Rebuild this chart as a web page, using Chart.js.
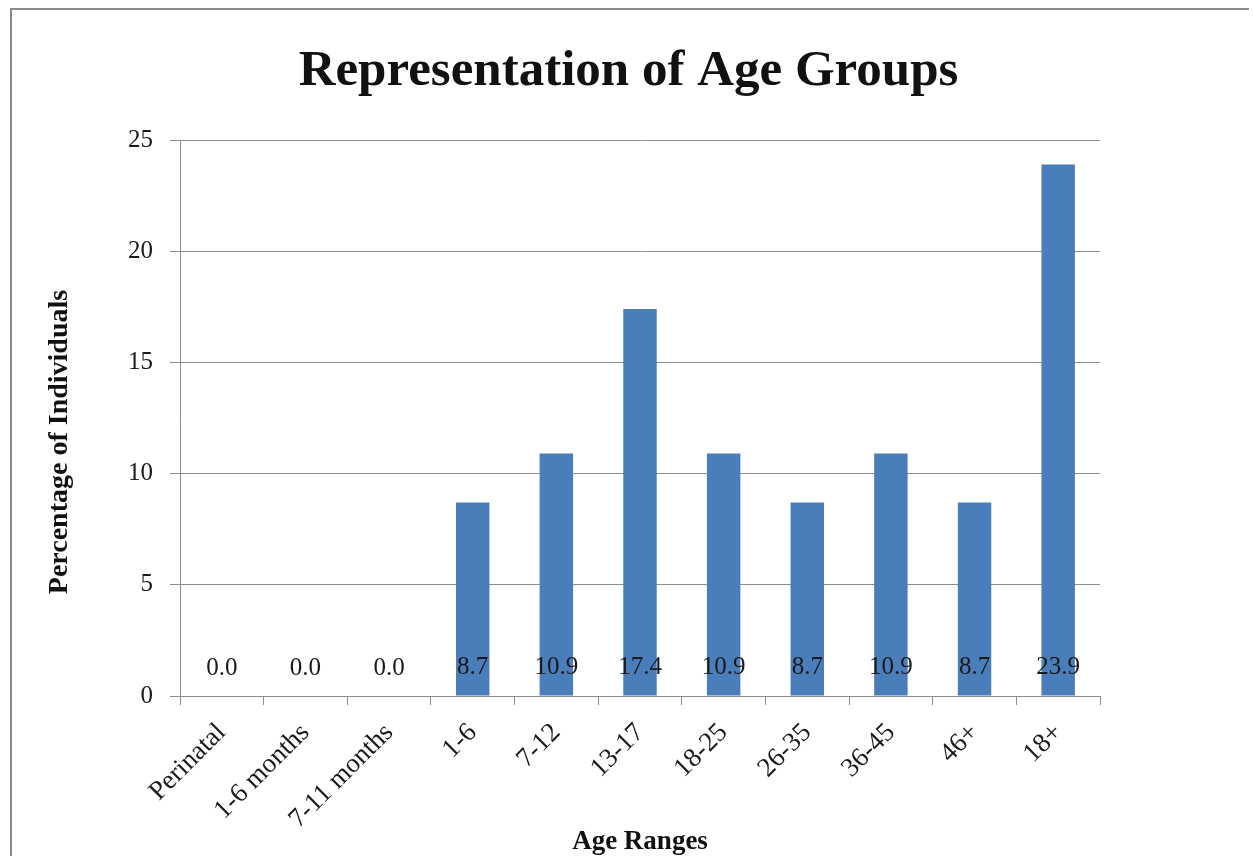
<!DOCTYPE html>
<html>
<head>
<meta charset="utf-8">
<title>Representation of Age Groups</title>
<script src="https://cdn.jsdelivr.net/npm/chart.js@4/dist/chart.umd.min.js"></script>
<style>
  html, body { margin: 0; padding: 0; background: #fff; }
  #wrap { width: 1253px; height: 856px; position: relative; }
</style>
</head>
<body>
<div id="wrap"><canvas id="grafico"></canvas></div>
<script>
// dados
const faixas = ['Perinatal', '1-6 months', '7-11 months', '1-6', '7-12', '13-17', '18-25', '26-35', '36-45', '46+', '18+'];
const percentuais = [0.0, 0.0, 0.0, 8.7, 10.9, 17.4, 10.9, 8.7, 10.9, 8.7, 23.9];
const ticksY = [0, 5, 10, 15, 20, 25];
const tituloGrafico = 'Representation of Age Groups';
const tituloEixoY = 'Percentage of Individuals';

const fonteSerif = "'Liberation Serif', 'DejaVu Serif', serif";

// moldura cinza, titulo e titulo do eixo Y
const moldura = {
  id: 'moldura',
  beforeDraw(chart) {
    const ctx = chart.ctx;
    ctx.save();
    ctx.strokeStyle = '#8a8a8a';
    ctx.lineWidth = 2;
    ctx.beginPath();
    ctx.moveTo(11, chart.height);
    ctx.lineTo(11, 9);
    ctx.lineTo(chart.width - 4, 9);
    ctx.stroke();

    ctx.fillStyle = '#111';
    ctx.textAlign = 'center';
    ctx.textBaseline = 'alphabetic';
    ctx.font = 'bold 51px ' + fonteSerif;
    ctx.fillText(tituloGrafico, chart.width / 2 + 2, 85);

    // titulo do eixo Y (um pouco abaixo do centro da area, como no original)
    ctx.translate(60, 442);
    ctx.rotate(-Math.PI / 2);
    ctx.textBaseline = 'middle';
    ctx.font = 'bold 28px ' + fonteSerif;
    ctx.fillText(tituloEixoY, 0, 0);
    ctx.restore();
  }
};

// rotulos de valor perto da base de cada barra
const rotulosBase = {
  id: 'rotulosBase',
  afterDatasetsDraw(chart) {
    const ctx = chart.ctx;
    const meta = chart.getDatasetMeta(0);
    ctx.save();
    ctx.font = '25px ' + fonteSerif;
    ctx.fillStyle = '#1a1a1a';
    ctx.textAlign = 'center';
    ctx.textBaseline = 'middle';
    meta.data.forEach((barra, i) => {
      ctx.fillText(percentuais[i].toFixed(1), barra.x, barra.base - 28);
    });
    ctx.restore();
  }
};

const ctx = document.getElementById('grafico');

new Chart(ctx, {
  type: 'bar',
  data: {
    labels: faixas,
    datasets: [{
      data: percentuais,
      backgroundColor: '#4a7ebb',
      borderWidth: 0,
      barPercentage: 0.4,
      categoryPercentage: 1.0
    }]
  },
  options: {
    responsive: true,
    maintainAspectRatio: false,
    animation: false,
    layout: {
      padding: { left: 40, right: 153, top: 140, bottom: 0 }
    },
    scales: {
      y: {
        min: 0,
        max: 25,
        afterBuildTicks: (escala) => {
          escala.ticks = ticksY.map(v => ({ value: v }));
        },
        afterFit: (escala) => { escala.width = 140; },
        border: { display: true, color: '#8c8c8c', width: 1 },
        grid: { color: '#8c8c8c', lineWidth: 1, tickLength: 10 },
        ticks: {
          color: '#1a1a1a',
          padding: 17,
          font: { family: fonteSerif, size: 25 }
        },
        title: { display: false }
      },
      x: {
        afterFit: (escala) => { escala.height = 160; },
        border: { display: true, color: '#8c8c8c', width: 1 },
        grid: { display: true, drawOnChartArea: false, color: '#8c8c8c', tickLength: 9, offset: true },
        ticks: {
          color: '#1a1a1a',
          autoSkip: false,
          minRotation: 45,
          maxRotation: 45,
          padding: 12,
          font: { family: fonteSerif, size: 27 }
        },
        title: {
          display: true,
          text: 'Age Ranges',
          color: '#111',
          padding: { top: 4, bottom: 0 },
          font: { family: fonteSerif, size: 27, weight: 'bold', lineHeight: 1.0 }
        }
      }
    },
    plugins: {
      legend: { display: false },
      tooltip: { enabled: false },
      title: { display: false }
    }
  },
  plugins: [moldura, rotulosBase]
});
</script>
</body>
</html>
